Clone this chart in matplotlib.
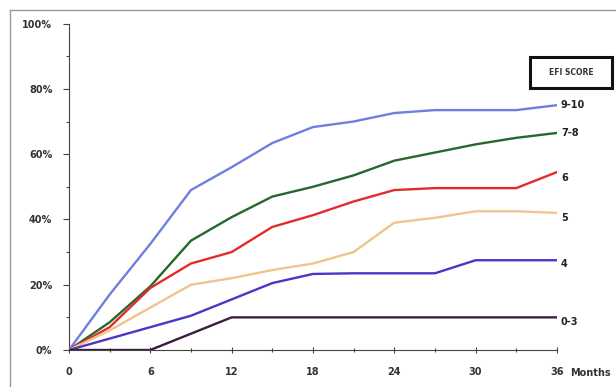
import matplotlib.pyplot as plt
from matplotlib.ticker import MultipleLocator, FuncFormatter
from matplotlib.lines import Line2D
from matplotlib.patches import Rectangle

# meses de seguimiento y porcentaje acumulado por grupo de EFI score
months = [0, 3, 6, 9, 12, 15, 18, 21, 24, 27, 30, 33, 36]
efi_9_10 = [0, 17, 32.5, 49, 56, 63.4, 68.3, 70, 72.6, 73.5, 73.5, 73.5, 75]
efi_7_8 = [0, 8.5, 19.5, 33.5, 40.7, 47, 50, 53.5, 58, 60.5, 63, 65, 66.5]
efi_6 = [0, 7, 19, 26.5, 30, 37.7, 41.3, 45.5, 49, 49.6, 49.6, 49.6, 54.5]
efi_5 = [0, 6, 13, 20, 22, 24.5, 26.5, 30, 39, 40.5, 42.5, 42.5, 42]
efi_4 = [0, 3.5, 7, 10.5, 15.5, 20.5, 23.3, 23.5, 23.5, 23.5, 27.5, 27.5, 27.5]
efi_0_3 = [0, 0, 0, 5, 10, 10, 10, 10, 10, 10, 10, 10, 10]

series = [
    ('9-10', efi_9_10, '#6f7fe0', 0.0),
    ('7-8', efi_7_8, '#25682c', 0.0),
    ('6', efi_6, '#e32b2b', -1.8),
    ('5', efi_5, '#f0c48c', -1.5),
    ('4', efi_4, '#4a35c8', -1.0),
    ('0-3', efi_0_3, '#3c1c3c', -1.5),
]

fig = plt.figure(figsize=(6.16, 3.87), dpi=100)
ax = fig.add_axes([0.112, 0.0956, 0.792, 0.8434])

for name, vals, col, dy in series:
    ax.plot(months, vals, color=col, lw=1.7, solid_capstyle='round', zorder=3)
    ax.text(36.3, vals[-1] + dy, name, fontsize=7, fontweight='bold',
            color='#222222', va='center', ha='left')

ax.set_xlim(0, 36)
ax.set_ylim(0, 100)
ax.spines['top'].set_visible(False)
ax.spines['right'].set_visible(False)
ax.spines['left'].set_color('#444444')
ax.spines['bottom'].set_color('#444444')

ax.xaxis.set_major_locator(MultipleLocator(6))
ax.xaxis.set_minor_locator(MultipleLocator(3))
ax.yaxis.set_major_locator(MultipleLocator(20))
ax.yaxis.set_minor_locator(MultipleLocator(10))
ax.yaxis.set_major_formatter(FuncFormatter(lambda v, p: '%d%%' % v))
ax.xaxis.set_major_formatter(FuncFormatter(lambda v, p: '%d' % v))

ax.tick_params(axis='y', which='major', direction='out', length=4, width=0.8,
               color='#444444', labelsize=7, labelcolor='#333333', pad=8)
ax.tick_params(axis='y', which='minor', direction='out', length=2.5, width=0.8,
               color='#444444')
ax.tick_params(axis='x', which='major', direction='inout', length=5, width=0.8,
               color='#444444', labelsize=7, labelcolor='#333333', pad=10)
ax.tick_params(axis='x', which='minor', direction='inout', length=3, width=0.8,
               color='#444444')
for lab in ax.get_xticklabels() + ax.get_yticklabels():
    lab.set_fontweight('bold')

ax.text(37.0, -6.9, 'Months', fontsize=7, fontweight='bold', color='#333333',
        ha='left', va='center', clip_on=False)

# caja "EFI SCORE"
fig.patches.append(Rectangle((530 / 616, 1 - 88 / 387), 82 / 616, 31 / 387,
                             transform=fig.transFigure, fill=False,
                             edgecolor='#111111', lw=2.2))
fig.text(571 / 616, 1 - 72.5 / 387, 'EFI SCORE', fontsize=5.5, fontweight='bold',
         color='#333333', ha='center', va='center')

# marco gris exterior
fig.lines.append(Line2D([10 / 616, 10 / 616], [0, 1 - 10 / 387],
                        transform=fig.transFigure, color='#999999', lw=1))
fig.lines.append(Line2D([10 / 616, 1], [1 - 10 / 387, 1 - 10 / 387],
                        transform=fig.transFigure, color='#999999', lw=1))

fig.savefig('out.png', dpi=100)
